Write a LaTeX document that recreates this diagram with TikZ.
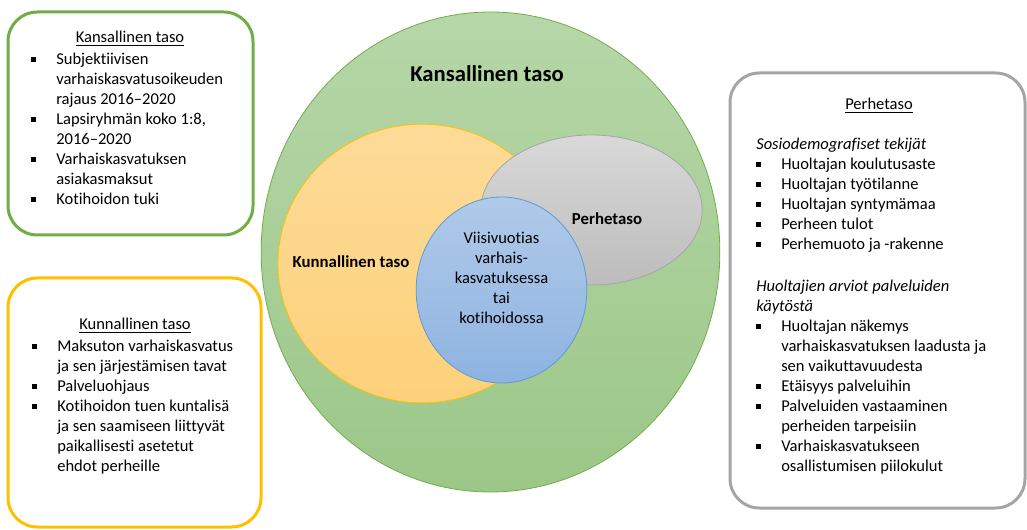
\documentclass[tikz,border=0pt]{standalone}
\usepackage{fontspec}
\setmainfont{Carlito}[Ligatures=NoCommon]
\usetikzlibrary{shapes.geometric}

\definecolor{natTop}{HTML}{B6D7A8}
\definecolor{natBot}{HTML}{9CC788}
\definecolor{natLine}{HTML}{70AD47}
\definecolor{munTop}{HTML}{FDDB98}
\definecolor{munBot}{HTML}{FDD17A}
\definecolor{munLine}{HTML}{FFC000}
\definecolor{famTop}{HTML}{D9D9D9}
\definecolor{famBot}{HTML}{BCBCBC}
\definecolor{famLine}{HTML}{A5A5A5}
\definecolor{kidTop}{HTML}{B0CAE9}
\definecolor{kidBot}{HTML}{8EB3E1}
\definecolor{kidLine}{HTML}{5B9BD5}

\newcommand{\sqb}{\rule[2.2pt]{3.6pt}{3.6pt}}

\tikzset{
  levelbox/.style={draw, line width=2.25pt, rounded corners=22pt, inner sep=0pt, outer sep=0pt},
  venn/.style={ellipse, inner sep=0pt, outer sep=0pt, line width=0.6pt},
  boxtitle/.style={anchor=base, inner sep=0pt, font=\fontsize{12.4}{15}\selectfont},
  boxlist/.style={anchor=base west, inner sep=0pt, font=\fontsize{12.4}{15}\selectfont},
  venntext/.style={anchor=base, inner sep=0pt, align=center, font=\fontsize{12.4}{15}\selectfont},
  vennbold/.style={anchor=base, inner sep=0pt, font=\fontsize{12.6}{15}\selectfont\bfseries}
}

\begin{document}
\begin{tikzpicture}[x=0.75pt,y=0.75pt,yscale=-1,xscale=1]
    \useasboundingbox (0,0) rectangle (1027,530);

    %Shape: Ellipse [national]
    \node (national) at (490.5,252) [venn, draw=natLine, top color=natTop, bottom color=natBot, minimum width=344pt, minimum height=360pt] {};
    %Shape: Ellipse [municipal]
    \node (municipal) at (422,263.5) [venn, draw=munLine, top color=munTop, bottom color=munBot, minimum width=216pt, minimum height=209pt] {};
    %Shape: Ellipse [family]
    \node (family) at (591.5,210) [venn, draw=famLine, top color=famTop, bottom color=famBot, minimum width=166pt, minimum height=112.5pt] {};
    %Shape: Ellipse [child]
    \node (child) at (501.5,290) [venn, draw=kidLine, top color=kidTop, bottom color=kidBot, minimum width=128pt, minimum height=139.5pt] {};

    % Text Node
    \node (nationalText) at (487,82) [vennbold, font=\fontsize{17}{20}\selectfont\bfseries] {Kansallinen taso};
    % Text Node
    \node (municipalText) at (351,268) [vennbold] {Kunnallinen taso};
    % Text Node
    \node (familyText) at (607,225) [vennbold] {Perhetaso};
    % Text Node
    \node (childText) at (501.5,324) [venntext] {Viisivuotias\\varhais-\\kasvatuksessa\\tai\\kotihoidossa};

    %Shape: Rounded Rect [national box]
    \node (nationalBox) at (130.5,123.5) [levelbox, draw=natLine, minimum width=183.75pt, minimum height=167.25pt] {};
    %Shape: Rounded Rect [municipal box]
    \node (municipalBox) at (134.5,402.5) [levelbox, draw=munLine, minimum width=189.75pt, minimum height=186.75pt] {};
    %Shape: Rounded Rect [family box]
    \node (familyBox) at (877.5,290.5) [levelbox, draw=famLine, minimum width=221.25pt, minimum height=326.25pt] {};

    % Text Node
    \node (nationalTitle) at (130,43) [boxtitle] {\underline{Kansallinen taso}};
    \node (nationalList) at (31,65) [boxlist] {%
      \begin{tabular}[t]{@{}p{18.75pt}@{}l@{}}
        \sqb & Subjektiivisen\\
             & varhaiskasvatusoikeuden\\
             & rajaus 2016–2020\\
        \sqb & Lapsiryhmän koko 1:8,\\
             & 2016–2020\\
        \sqb & Varhaiskasvatuksen\\
             & asiakasmaksut\\
        \sqb & Kotihoidon tuki
      \end{tabular}};

    % Text Node
    \node (municipalTitle) at (135,330) [boxtitle] {\underline{Kunnallinen taso}};
    \node (municipalList) at (32,352) [boxlist] {%
      \begin{tabular}[t]{@{}p{18.75pt}@{}l@{}}
        \sqb & Maksuton varhaiskasvatus\\
             & ja sen järjestämisen tavat\\
        \sqb & Palveluohjaus\\
        \sqb & Kotihoidon tuen kuntalisä\\
             & ja sen saamiseen liittyvät\\
             & paikallisesti asetetut\\
             & ehdot perheille
      \end{tabular}};

    % Text Node
    \node (familyTitle) at (879,110) [boxtitle] {\underline{Perhetaso}};
    \node (familyList) at (756,150) [boxlist] {%
      \begin{tabular}[t]{@{}p{18.75pt}@{}l@{}}
        \multicolumn{2}{@{}l@{}}{\textit{Sosiodemografiset tekijät}}\\
        \sqb & Huoltajan koulutusaste\\
        \sqb & Huoltajan työtilanne\\
        \sqb & Huoltajan syntymämaa\\
        \sqb & Perheen tulot\\
        \sqb & Perhemuoto ja -rakenne\\
             & \\[1.5pt]
        \multicolumn{2}{@{}l@{}}{\textit{Huoltajien arviot palveluiden}}\\
        \multicolumn{2}{@{}l@{}}{\textit{käytöstä}}\\
        \sqb & Huoltajan näkemys\\
             & varhaiskasvatuksen laadusta ja\\
             & sen vaikuttavuudesta\\
        \sqb & Etäisyys palveluihin\\
        \sqb & Palveluiden vastaaminen\\
             & perheiden tarpeisiin\\
        \sqb & Varhaiskasvatukseen\\
             & osallistumisen piilokulut
      \end{tabular}};

\end{tikzpicture}
\end{document}
